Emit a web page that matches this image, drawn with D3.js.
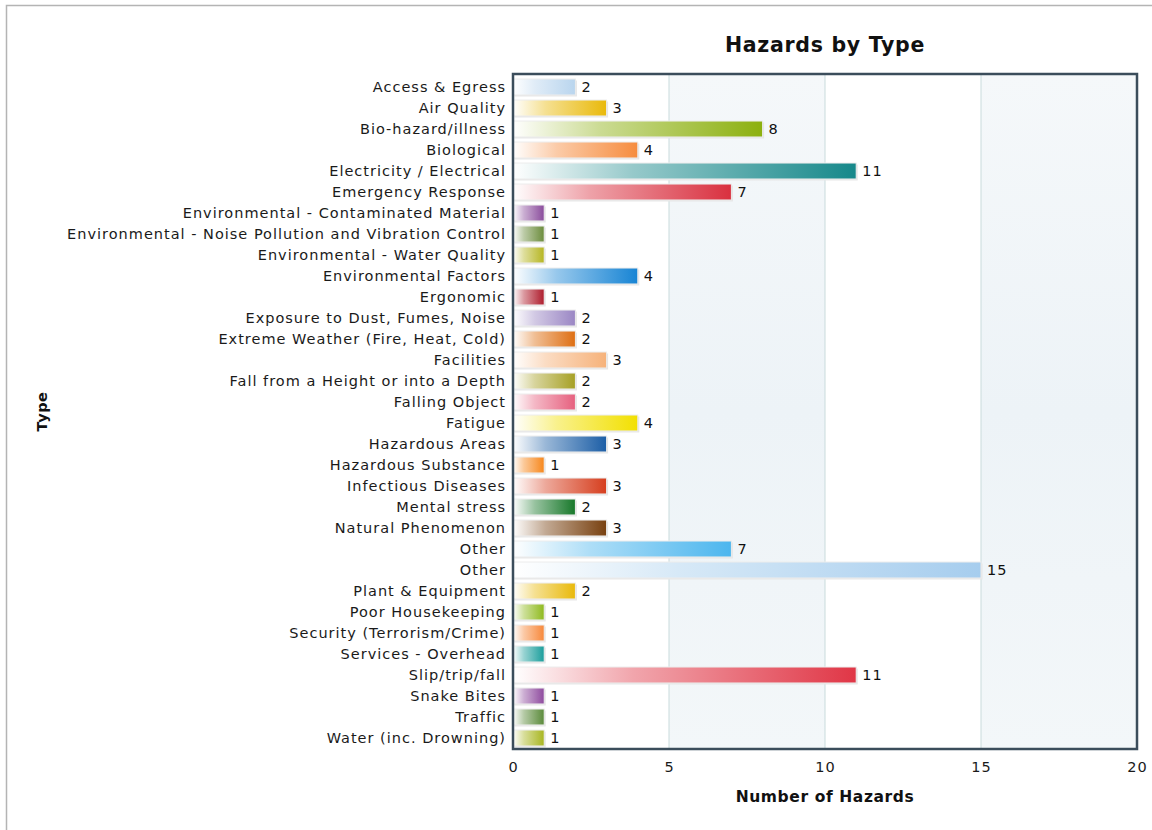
<!DOCTYPE html>
<html>
<head>
<meta charset="utf-8">
<script src="https://cdn.jsdelivr.net/npm/d3@7"></script>
<style>
  html, body { margin: 0; padding: 0; background: #fff; }
  svg { display: block; font-family: "DejaVu Sans", Verdana, sans-serif; }
</style>
</head>
<body>
<svg id="chart" width="1152" height="830"></svg>
<script>
// Hazard categories and counts
const categories = [
  "Access & Egress", "Air Quality", "Bio-hazard/illness", "Biological",
  "Electricity / Electrical", "Emergency Response",
  "Environmental - Contaminated Material",
  "Environmental - Noise Pollution and Vibration Control",
  "Environmental - Water Quality", "Environmental Factors", "Ergonomic",
  "Exposure to Dust, Fumes, Noise", "Extreme Weather (Fire, Heat, Cold)",
  "Facilities", "Fall from a Height or into a Depth", "Falling Object",
  "Fatigue", "Hazardous Areas", "Hazardous Substance", "Infectious Diseases",
  "Mental stress", "Natural Phenomenon", "Other", "Other",
  "Plant & Equipment", "Poor Housekeeping", "Security (Terrorism/Crime)",
  "Services - Overhead", "Slip/trip/fall", "Snake Bites", "Traffic",
  "Water (inc. Drowning)"
];
const counts = [2, 3, 8, 4, 11, 7, 1, 1, 1, 4, 1, 2, 2, 3, 2, 2, 4, 3, 1, 3, 2, 3, 7, 15, 2, 1, 1, 1, 11, 1, 1, 1];
const palette = [
  "#b9d5ee", "#e9b90a", "#8cb00e", "#f68c3e", "#16888a", "#d9303f",
  "#8a4c9c", "#6b8c3c", "#b6b622", "#1784d4", "#ae1c2c", "#9a86c4",
  "#de6e12", "#f6b27a", "#a6a024", "#e6607e", "#f2e000", "#1c5ea6",
  "#f7871c", "#d63e1e", "#17782a", "#78400f", "#4cb6ee", "#a6cdee",
  "#e9b90a", "#8fba1e", "#f7883a", "#1a9e9c", "#e03646", "#8e4a9e",
  "#5a8a3a", "#a8b620"
];
const xTicks = [0, 5, 10, 15, 20];

const rows = categories.map((c, i) => ({ key: i, label: c, value: counts[i], color: palette[i] }));

const svg = d3.select("#chart");
const W = 1152, H = 830;
const m = { left: 513, right: 1137, top: 74, bottom: 749 };
const labelFont = { size: 14.5, spacing: 1.0 };

// outer panel frame
svg.append("rect").attr("x", 6.5).attr("y", 5.5).attr("width", W + 10).attr("height", H + 10)
  .attr("fill", "#fff").attr("stroke", "#b4b4b4").attr("stroke-width", 1.5);

const x = d3.scaleLinear().domain([0, 20]).range([m.left, m.right]);
const y = d3.scaleBand().domain(rows.map(d => d.key)).range([m.top + 2, m.bottom])
  .paddingInner(0.24).paddingOuter(0.144);

const defs = svg.append("defs");
const band = defs.append("linearGradient").attr("id", "bandFill").attr("x1", 0).attr("x2", 0).attr("y1", 0).attr("y2", 1);
band.append("stop").attr("offset", "0%").attr("stop-color", "#f5f8fa");
band.append("stop").attr("offset", "50%").attr("stop-color", "#edf3f7");
band.append("stop").attr("offset", "100%").attr("stop-color", "#f3f7f9");

rows.forEach(d => {
  const g = defs.append("linearGradient").attr("id", "bar" + d.key);
  g.append("stop").attr("offset", "0%").attr("stop-color", "#ffffff");
  g.append("stop").attr("offset", "35%").attr("stop-color", d3.interpolateRgb("#ffffff", d.color)(0.45));
  g.append("stop").attr("offset", "100%").attr("stop-color", d.color);
});

// alternating background bands
const bands = d3.pairs(xTicks).filter((p, i) => i % 2 === 1);
svg.append("g").selectAll("rect").data(bands).join("rect")
  .attr("x", p => x(p[0])).attr("y", m.top)
  .attr("width", p => x(p[1]) - x(p[0])).attr("height", m.bottom - m.top)
  .attr("fill", "url(#bandFill)");

// vertical gridlines
svg.append("g").selectAll("line").data(xTicks.slice(1, -1)).join("line")
  .attr("x1", d => x(d)).attr("x2", d => x(d))
  .attr("y1", m.top).attr("y2", m.bottom)
  .attr("stroke", "#c9dbdc").attr("stroke-width", 1);

// bars: soft shadow, gradient body
const bars = svg.append("g").selectAll("g").data(rows).join("g");
bars.append("rect")
  .attr("x", x(0) + 1.5).attr("y", d => y(d.key) + 1.5)
  .attr("width", d => x(d.value) - x(0)).attr("height", y.bandwidth())
  .attr("fill", "#e6e6e6");
bars.append("rect")
  .attr("x", x(0)).attr("y", d => y(d.key))
  .attr("width", d => x(d.value) - x(0)).attr("height", y.bandwidth())
  .attr("fill", d => `url(#bar${d.key})`)
  .attr("stroke", "#ececec").attr("stroke-width", 1);

// value labels
svg.append("g").selectAll("text").data(rows).join("text")
  .attr("x", d => x(d.value) + 6).attr("y", d => y(d.key) + y.bandwidth() / 2)
  .attr("dy", "0.36em").attr("font-size", labelFont.size).attr("letter-spacing", labelFont.spacing)
  .attr("fill", "#111")
  .text(d => d.value);

// category labels
svg.append("g").selectAll("text").data(rows).join("text")
  .attr("x", m.left - 7).attr("y", d => y(d.key) + y.bandwidth() / 2)
  .attr("dy", "0.36em").attr("text-anchor", "end")
  .attr("font-size", labelFont.size).attr("letter-spacing", labelFont.spacing)
  .attr("fill", "#1a1a1a")
  .text(d => d.label);

// plot border
svg.append("rect").attr("x", m.left).attr("y", m.top)
  .attr("width", m.right - m.left).attr("height", m.bottom - m.top)
  .attr("fill", "none").attr("stroke", "#3b4d5b").attr("stroke-width", 2.5);

// x axis tick labels
const xAxis = d3.axisBottom(x).tickValues(xTicks).tickSize(0).tickPadding(13);
const ax = svg.append("g").attr("transform", `translate(0,${m.bottom})`).call(xAxis);
ax.select(".domain").remove();
ax.selectAll("text").attr("font-size", labelFont.size).attr("letter-spacing", labelFont.spacing)
  .attr("fill", "#1a1a1a").attr("font-family", "DejaVu Sans, Verdana, sans-serif");

// titles
svg.append("text").attr("x", (m.left + m.right) / 2).attr("y", 52)
  .attr("text-anchor", "middle").attr("font-size", 20.5).attr("letter-spacing", 0.7)
  .attr("font-weight", "bold").attr("fill", "#111")
  .text("Hazards by Type");
svg.append("text").attr("x", (m.left + m.right) / 2).attr("y", 802)
  .attr("text-anchor", "middle").attr("font-size", 15.5).attr("letter-spacing", 0.6)
  .attr("font-weight", "bold").attr("fill", "#111")
  .text("Number of Hazards");
svg.append("text").attr("transform", `translate(47,${(m.top + m.bottom) / 2}) rotate(-90)`)
  .attr("text-anchor", "middle").attr("font-size", 14.5).attr("letter-spacing", 0.5)
  .attr("font-weight", "bold").attr("fill", "#111")
  .text("Type");
</script>
</body>
</html>
